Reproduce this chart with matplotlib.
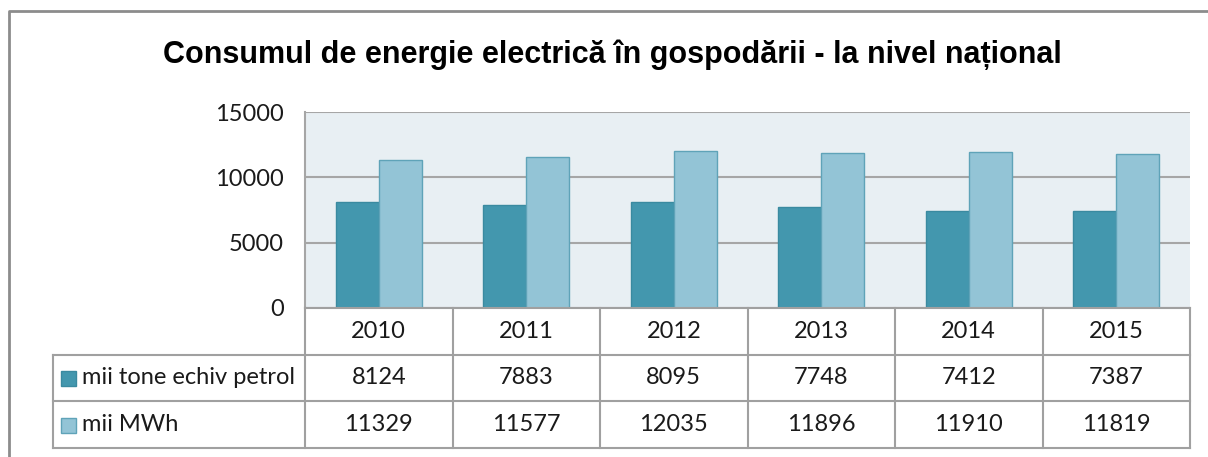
import matplotlib
matplotlib.use("Agg")
import matplotlib.pyplot as plt
from matplotlib import font_manager
from matplotlib.patches import Rectangle
from matplotlib.lines import Line2D
import matplotlib.transforms as mtransforms

names = sorted({f.name for f in font_manager.fontManager.ttflist})

years = ["2010", "2011", "2012", "2013", "2014", "2015"]
series_names = ["mii tone echiv petrol", "mii MWh"]
toe = [8124, 7883, 8095, 7748, 7412, 7387]
mwh = [11329, 11577, 12035, 11896, 11910, 11819]
yticks = [0, 5000, 10000, 15000]
title = "Consumul de energie electrică în gospodării - la nivel național"

W, H = 1208, 457
fig = plt.figure(figsize=(W / 100, H / 100), dpi=100)
fig.patch.set_facecolor("white")

def fx(p):
    return p / W

def fy(p):
    return 1 - p / H

body_font = "Lato" if "Lato" in names else "DejaVu Sans"
narrow = "Liberation Sans Narrow" in names
title_font = "Liberation Sans Narrow" if narrow else "Liberation Sans"
title_size = 27 if narrow else 22

c_dark = "#4397AE"
c_light = "#93C4D6"
e_dark = "#3A8AA0"
e_light = "#5FA3B8"
grid_c = "#A6A6A6"
line_c = "#A0A0A0"
txt_c = "#1a1a1a"

# outer border
fig.add_artist(Line2D([fx(9), fx(9), fx(1215)], [fy(470), fy(11), fy(11)],
                      transform=fig.transFigure, color="#8C8C8C", lw=2))

L, R, T, B = 305, 1190, 112, 308
ax = fig.add_axes([fx(L), fy(B), fx(R - L), (B - T) / H])
ax.set_facecolor("#E8EFF3")
n = len(years)
x = list(range(n))
bw = 0.29
ax.bar([i - bw / 2 for i in x], toe, width=bw, color=c_dark, edgecolor=e_dark, linewidth=1, zorder=3)
ax.bar([i + bw / 2 for i in x], mwh, width=bw, color=c_light, edgecolor=e_light, linewidth=1, zorder=3)
ax.set_xlim(-0.5, n - 0.5)
ax.set_ylim(0, 15000)
ax.set_yticks(yticks)
fs = 17
ax.set_yticklabels([str(v) for v in yticks], fontsize=fs, family=body_font, color=txt_c)
ax.set_xticks([])
ax.tick_params(axis="y", length=0, pad=15)
ax.yaxis.grid(True, color=grid_c, lw=1.5, zorder=0)
for s in ["top", "right", "bottom"]:
    ax.spines[s].set_visible(False)
ax.spines["left"].set_color(grid_c)
ax.spines["left"].set_linewidth(1.5)

# data table
trans = mtransforms.blended_transform_factory(ax.transData, fig.transFigure)
row_y = [308, 355, 401, 448]
fig.add_artist(Line2D([-0.5, n - 0.5], [fy(row_y[0])] * 2, transform=trans, color=line_c, lw=1.5))
for yy in row_y[1:]:
    fig.add_artist(Line2D([fx(53), fx(R)], [fy(yy)] * 2, transform=fig.transFigure, color=line_c, lw=1.5))
for i in range(n + 1):
    fig.add_artist(Line2D([i - 0.5, i - 0.5], [fy(row_y[0]), fy(row_y[3])], transform=trans, color=line_c, lw=1.5))
fig.add_artist(Line2D([fx(53), fx(53)], [fy(row_y[1]), fy(row_y[3])], transform=fig.transFigure, color=line_c, lw=1.5))

for i, yr in enumerate(years):
    ax.text(i, fy((row_y[0] + row_y[1]) / 2), yr, transform=trans, ha="center", va="center", fontsize=fs, family=body_font, color=txt_c)
    ax.text(i, fy((row_y[1] + row_y[2]) / 2), str(toe[i]), transform=trans, ha="center", va="center", fontsize=fs, family=body_font, color=txt_c)
    ax.text(i, fy((row_y[2] + row_y[3]) / 2), str(mwh[i]), transform=trans, ha="center", va="center", fontsize=fs, family=body_font, color=txt_c)

for k, (name, fc, ec) in enumerate(zip(series_names, [c_dark, c_light], [e_dark, e_light])):
    ymid = (row_y[k + 1] + row_y[k + 2]) / 2
    fig.add_artist(Rectangle((fx(61), fy(ymid + 8)), 15 / W, 15 / H, transform=fig.transFigure,
                             facecolor=fc, edgecolor=ec, lw=1))
    fig.text(fx(82), fy(ymid), name, ha="left", va="center", fontsize=fs, family=body_font, color=txt_c)

fig.text(fx(612), fy(55), title, ha="center", va="center", fontsize=title_size, fontweight="bold", family=title_font, color="black")

fig.savefig("out.png", dpi=100)
